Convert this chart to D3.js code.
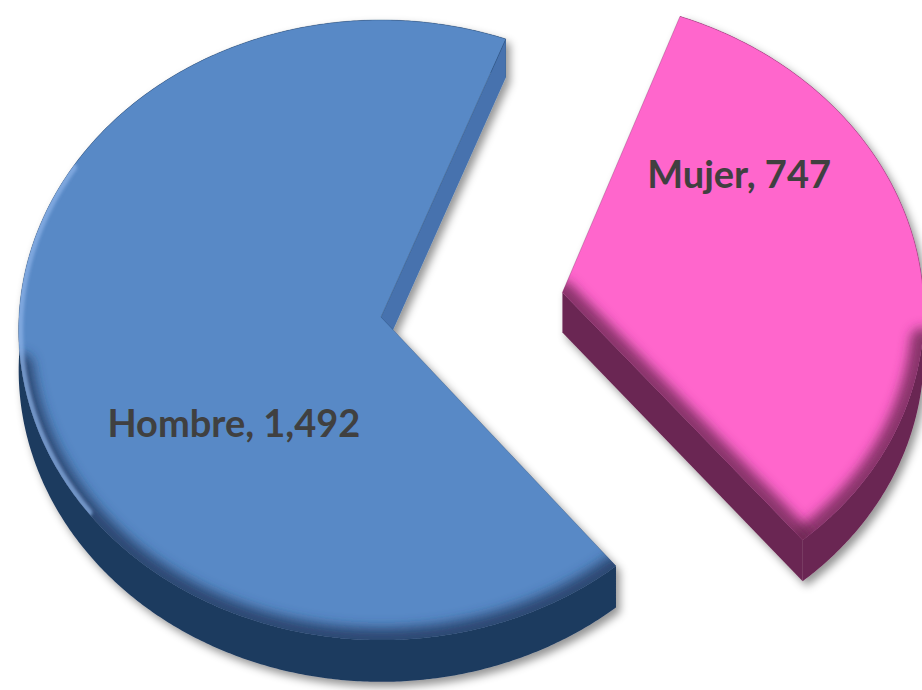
<!DOCTYPE html>
<html>
<head>
<meta charset="utf-8">
<script src="https://cdn.jsdelivr.net/npm/d3@7"></script>
<style>
  html, body { margin: 0; padding: 0; background: #ffffff; }
  svg { display: block; }
</style>
</head>
<body>
<svg id="chart" width="922" height="690"></svg>
<script>
// ---- data ----
const categories = ["Hombre", "Mujer"];
const values = [1492, 747];
const explodedCategory = "Mujer";

// ---- layout of the tilted 3D pie ----
const W = 922, H = 690;
const cx = 381, cy = 317;       // centre of the top face
const R = 362, RY = 309.5;      // horizontal / vertical radius of the top face
const persp = 0.042;            // mild perspective: front part drawn larger
const depth = 40;               // thickness of the pie
const explodeDist = 0.509;      // pull-out of the exploded slice (fraction of radius)
const firstCut = 21 * Math.PI / 180;

const topColor   = d3.scaleOrdinal().domain(categories).range(["#5889C6", "#FF66CC"]);
const wallColor  = d3.scaleOrdinal().domain(categories).range(["#1F3A5F", "#6A2552"]);
const cutColor   = d3.scaleOrdinal().domain(categories).range(["#4672AE", "#6A2552"]);
const lightColor = d3.scaleOrdinal().domain(categories).range(["#8DB4E8", "#FF9BDD"]);
const labelPlace = { Hombre: [0.37, 0.524], Mujer: [0.26, 0.64] }; // [fraction along slice, radius]

const data = categories.map((c, i) => ({ category: c, value: values[i] }));
const total = d3.sum(values);
const explodedValue = data.find(d => d.category === explodedCategory).value;
const start = firstCut + 2 * Math.PI * explodedValue / total;

const pie = d3.pie().sort(null).value(d => d.value)
  .startAngle(start).endAngle(start + 2 * Math.PI);
const arcs = pie(data);

// project a point of the pie plane (u right, v toward viewer, h down through thickness)
function proj(u, v, h) {
  const p = 1 / (1 - persp * v);
  return [cx + R * u * p, cy + RY * v * p + depth * h * p];
}

const svg = d3.select("#chart");
const defs = svg.append("defs");

defs.append("filter").attr("id", "dropShadow")
  .attr("x", "-10%").attr("y", "-10%").attr("width", "125%").attr("height", "125%")
  .append("feDropShadow")
  .attr("dx", 4).attr("dy", 5).attr("stdDeviation", 4)
  .attr("flood-color", "#000").attr("flood-opacity", 0.42);

defs.append("filter").attr("id", "softEdge")
  .attr("x", "-20%").attr("y", "-20%").attr("width", "140%").attr("height", "140%")
  .append("feGaussianBlur").attr("stdDeviation", 6);

defs.append("filter").attr("id", "thinEdge")
  .attr("x", "-20%").attr("y", "-20%").attr("width", "140%").attr("height", "140%")
  .append("feGaussianBlur").attr("stdDeviation", 1.5);

const toPath = pts => "M" + pts.map(p => p[0].toFixed(2) + "," + p[1].toFixed(2)).join("L");

arcs.forEach((a, idx) => {
  const cat = a.data.category;
  const a0 = a.startAngle, a1 = a.endAngle;
  const mid = (a0 + a1) / 2;
  const off = cat === explodedCategory ? explodeDist : 0;
  const ou = off * Math.sin(mid), ov = -off * Math.cos(mid);
  const pt = (t, r, h) => proj(ou + r * Math.sin(t), ov - r * Math.cos(t), h);

  const n = Math.max(8, Math.ceil((a1 - a0) / (Math.PI / 360)));
  const angles = d3.range(n + 1).map(i => a0 + (a1 - a0) * i / n);
  const rimTop = angles.map(t => pt(t, 1, 0));
  const rimBot = angles.map(t => pt(t, 1, 1));
  const apexTop = pt(0, 0, 0), apexBot = pt(0, 0, 1);

  const g = svg.append("g").attr("class", "slice").attr("filter", "url(#dropShadow)");

  // outer curved wall
  g.append("path")
    .attr("d", toPath(rimTop.concat(rimBot.slice().reverse())) + "Z")
    .attr("fill", wallColor(cat));

  // radial cut faces that turn toward the viewer
  const startFront = -Math.sin(a0);   // toward-viewer component of the face normal
  const endFront = Math.sin(a1);
  if (startFront > 0) {
    g.append("path")
      .attr("d", toPath([apexTop, pt(a0, 1, 0), pt(a0, 1, 1), apexBot]) + "Z")
      .attr("fill", cutColor(cat));
  }
  if (endFront > 0) {
    g.append("path")
      .attr("d", toPath([apexTop, pt(a1, 1, 0), pt(a1, 1, 1), apexBot]) + "Z")
      .attr("fill", cutColor(cat));
  }

  // top face
  const topD = toPath([apexTop].concat(rimTop)) + "Z";
  const clipId = "clipTop" + idx;
  defs.append("clipPath").attr("id", clipId).append("path").attr("d", topD);

  g.append("path").attr("d", topD).attr("fill", topColor(cat))
    .attr("stroke", wallColor(cat)).attr("stroke-opacity", 0.3).attr("stroke-width", 1);

  const bevel = g.append("g").attr("clip-path", `url(#${clipId})`);

  // darker rounded edge where the top face meets a visible side
  const shadeSegs = [];
  let seg = [];
  angles.forEach(t => {
    if (-Math.cos(t) > 0.15) seg.push(pt(t, 1, 0));
    else if (seg.length) { shadeSegs.push(seg); seg = []; }
  });
  if (seg.length) shadeSegs.push(seg);
  if (endFront > 0.5) shadeSegs.push([apexTop, pt(a1, 1, 0)]);
  if (startFront > 0.5) shadeSegs.push([apexTop, pt(a0, 1, 0)]);
  shadeSegs.forEach(s => {
    bevel.append("path").attr("d", toPath(s))
      .attr("fill", "none").attr("stroke", wallColor(cat))
      .attr("stroke-width", 24).attr("stroke-linejoin", "round").attr("stroke-linecap", "round")
      .attr("stroke-opacity", 0.8).attr("filter", "url(#softEdge)");
  });

  // light rim on the upper-left edge
  const litPts = angles.filter(t => {
    const d = ((t * 180 / Math.PI) % 360 + 360) % 360;
    return d > 232 && d < 300;
  }).map(t => pt(t, 1, 0));
  if (litPts.length > 1) {
    bevel.append("path").attr("d", toPath(litPts))
      .attr("fill", "none").attr("stroke", lightColor(cat))
      .attr("stroke-width", 9).attr("stroke-opacity", 0.7).attr("stroke-linecap", "round")
      .attr("filter", "url(#thinEdge)");
  }
});

// data labels
const fmt = d3.format(",");
arcs.forEach(a => {
  const cat = a.data.category;
  const [frac, r] = labelPlace[cat];
  const mid = (a.startAngle + a.endAngle) / 2;
  const off = cat === explodedCategory ? explodeDist : 0;
  const t = a.startAngle + frac * (a.endAngle - a.startAngle);
  const p = proj(off * Math.sin(mid) + r * Math.sin(t), -off * Math.cos(mid) - r * Math.cos(t), 0);
  svg.append("text")
    .attr("x", p[0]).attr("y", p[1]).attr("dy", "0.36em")
    .attr("text-anchor", "middle")
    .attr("font-family", "Lato, 'Open Sans', sans-serif")
    .attr("font-weight", "bold").attr("font-size", 38)
    .attr("fill", "#404040")
    .text(`${cat}, ${fmt(a.data.value)}`);
});
</script>
</body>
</html>
